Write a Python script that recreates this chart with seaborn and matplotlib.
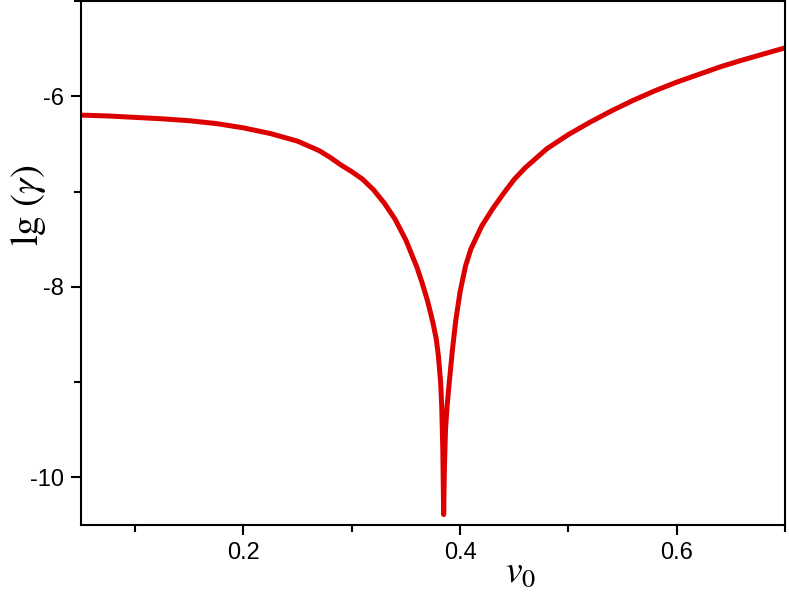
import numpy as np
import pandas as pd
import matplotlib
matplotlib.use("Agg")
import matplotlib.pyplot as plt
import seaborn as sns
from matplotlib.ticker import MultipleLocator

# values
v0 = [0.050, 0.075, 0.100, 0.125, 0.150, 0.175, 0.200, 0.225, 0.250, 0.270,
      0.280, 0.290, 0.300, 0.310, 0.320, 0.330, 0.340, 0.350, 0.360, 0.365,
      0.370, 0.375, 0.378, 0.380, 0.382, 0.383, 0.384, 0.3848, 0.3855, 0.3865,
      0.388, 0.390, 0.393, 0.396, 0.400, 0.405, 0.410, 0.420, 0.430, 0.440,
      0.450, 0.460, 0.480, 0.500, 0.520, 0.540, 0.560, 0.580, 0.600, 0.620,
      0.640, 0.660, 0.680, 0.700]
lg_gamma = [-6.196, -6.205, -6.220, -6.235, -6.255, -6.285, -6.330, -6.390, -6.470, -6.570,
            -6.640, -6.720, -6.790, -6.870, -6.980, -7.120, -7.290, -7.510, -7.790, -7.960,
            -8.150, -8.380, -8.550, -8.730, -9.000, -9.250, -9.700, -10.390, -9.900, -9.500,
            -9.250, -9.000, -8.650, -8.350, -8.050, -7.780, -7.600, -7.360, -7.180, -7.020,
            -6.870, -6.750, -6.550, -6.400, -6.270, -6.150, -6.040, -5.940, -5.850, -5.770,
            -5.690, -5.620, -5.555, -5.490]

df = pd.DataFrame({"v0": v0, "lg": lg_gamma})

sns.set_style("white")
plt.rcParams["font.family"] = ["Liberation Sans", "DejaVu Sans"]
plt.rcParams["mathtext.fontset"] = "stix"
plt.rcParams["text.color"] = "black"
plt.rcParams["axes.labelcolor"] = "black"
plt.rcParams["xtick.color"] = "black"
plt.rcParams["ytick.color"] = "black"

fig = plt.figure(figsize=(7.89, 5.99), dpi=100)
ax = fig.add_axes([0.1027, 0.1235, 0.8923, 0.8745])

sns.lineplot(data=df, x="v0", y="lg", ax=ax, color="#dd0000", linewidth=3.6,
             solid_capstyle="round", solid_joinstyle="round")

ax.set_xlim(0.05, 0.70)
ax.set_ylim(-10.5, -5.0)
ax.xaxis.set_minor_locator(MultipleLocator(0.1))
ax.yaxis.set_minor_locator(MultipleLocator(1))
ax.set_xticks([0.2, 0.4, 0.6])
ax.set_xticklabels(["0.2", "0.4", "0.6"])
ax.set_yticks([-10, -8, -6])
ax.set_yticklabels(["-10", "-8", "-6"])

ax.tick_params(which="both", direction="out", colors="black", width=1.5,
               bottom=True, left=True, top=False, right=False)
ax.tick_params(which="major", length=7, labelsize=17, pad=5)
ax.tick_params(which="minor", length=5)

for s in ax.spines.values():
    s.set_color("black")
    s.set_linewidth(1.5)

ax.set_xlabel(r"$v_0$", fontsize=27, color="black")
ax.xaxis.set_label_coords(0.625, -0.055)
ax.set_ylabel(r"$\mathrm{lg}\ (\gamma)$", fontsize=28, color="black")
ax.yaxis.set_label_coords(-0.047, 0.61)

fig.savefig("out.png", dpi=100)
